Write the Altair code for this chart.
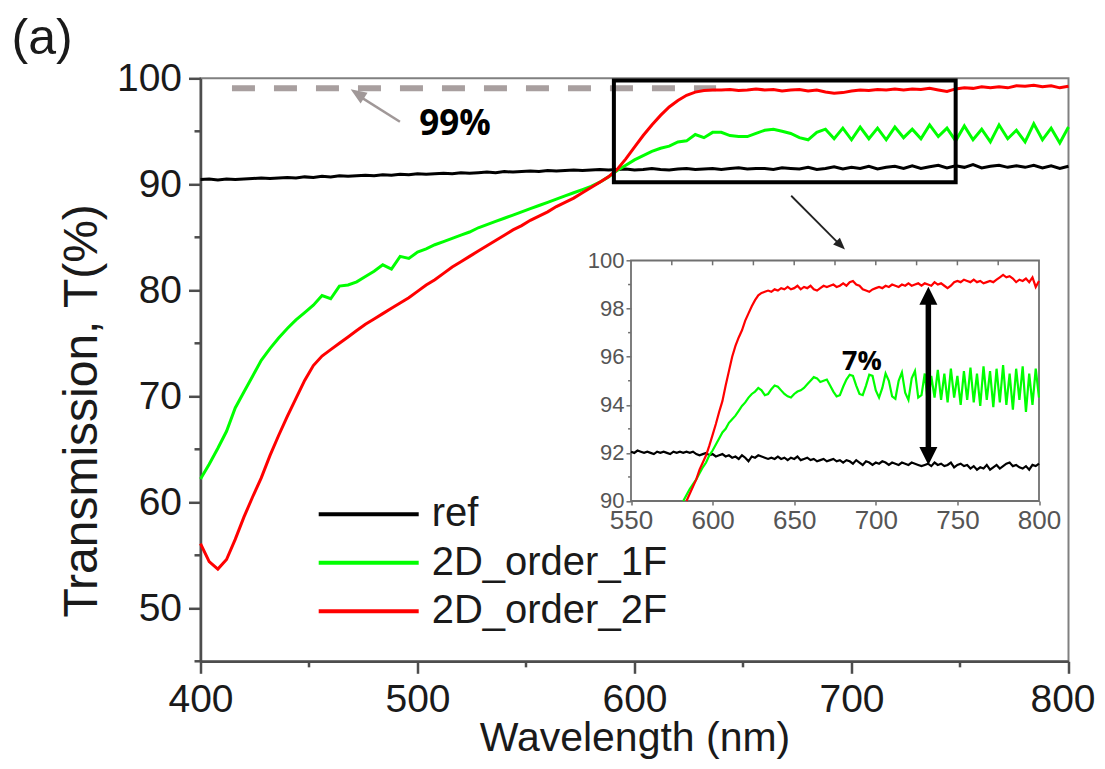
import altair as alt
import pandas as pd

FONT = "Liberation Sans"
ANN_FONT = "Open Sans"

# ---------------- data ----------------
series_names = ["ref", "2D_order_1F", "2D_order_2F"]
series_colors = ["#000000", "#00ff00", "#ff0000"]

wl_main = list(range(400, 801, 4))
ref_main = [
    90.45, 90.5, 90.4, 90.5, 90.45, 90.5, 90.55, 90.6, 90.55, 90.6,
    90.65, 90.6, 90.7, 90.65, 90.75, 90.7, 90.8, 90.75, 90.8, 90.85,
    90.8, 90.9, 90.85, 90.95, 90.9, 91.0, 90.95, 91.0, 91.05, 91.0,
    91.1, 91.05, 91.1, 91.15, 91.1, 91.2, 91.15, 91.2, 91.25, 91.2,
    91.3, 91.25, 91.3, 91.35, 91.3, 91.35, 91.4, 91.35, 91.4, 91.45,
    91.35, 91.4, 91.5, 91.4, 91.35, 91.45, 91.5, 91.4, 91.45, 91.5,
    91.4, 91.5, 91.55, 91.45, 91.5, 91.5, 91.4, 91.55, 91.5, 91.45,
    91.6, 91.4, 91.5, 91.65, 91.45, 91.6, 91.5, 91.7, 91.45, 91.6,
    91.7, 91.5, 91.75, 91.5, 91.65, 91.8, 91.55, 91.75, 91.6, 91.85,
    91.55, 91.7, 91.8, 91.6, 91.75, 91.6, 91.8, 91.55, 91.75, 91.5,
    91.7,
]
green_main = [
    62.2, 63.6, 65.1, 66.7, 68.9, 70.4, 71.9, 73.4, 74.5, 75.5,
    76.4, 77.2, 77.9, 78.6, 79.5, 79.2, 80.4, 80.5, 80.8, 81.3,
    81.8, 82.4, 82.0, 83.2, 83.0, 83.6, 83.9, 84.3, 84.6, 84.9,
    85.2, 85.5, 85.9, 86.2, 86.5, 86.8, 87.1, 87.4, 87.7, 88.0,
    88.3, 88.6, 88.9, 89.2, 89.5, 89.8, 90.2, 90.7, 91.3, 91.8,
    92.3, 92.7, 93.1, 93.4, 93.6, 94.0, 94.1, 94.7, 94.4, 94.9,
    94.9, 94.6, 94.5, 94.5, 94.8, 95.1, 95.2, 95.0, 94.8, 94.4,
    94.2, 94.9, 95.2, 94.3, 95.3, 94.2, 95.4, 94.3, 95.3, 94.2,
    95.4, 94.4, 95.2, 94.3, 95.6, 94.5, 95.3, 94.1, 95.5, 94.2,
    95.2, 94.0, 95.6, 94.3, 95.1, 94.0, 95.7, 94.2, 95.3, 93.9,
    95.4,
]
red_main = [
    56.1, 54.4, 53.7, 54.6, 56.5, 58.6, 60.5, 62.3, 64.4, 66.3,
    68.1, 69.8, 71.5, 72.9, 73.8, 74.4, 75.0, 75.6, 76.2, 76.8,
    77.3, 77.8, 78.3, 78.8, 79.3, 79.9, 80.5, 81.0, 81.6, 82.2,
    82.7, 83.2, 83.7, 84.2, 84.7, 85.2, 85.7, 86.1, 86.6, 87.0,
    87.4, 87.9, 88.3, 88.7, 89.2, 89.7, 90.2, 90.7, 91.4, 92.4,
    93.5, 94.6, 95.6, 96.5, 97.3, 97.9, 98.4, 98.7, 98.85, 98.9,
    98.9, 98.95, 98.85, 98.9, 99.0, 98.9, 98.95, 98.8, 98.9, 98.95,
    98.8, 98.9, 98.7, 98.6, 98.65, 98.8, 98.9, 98.85, 98.95, 98.9,
    99.0, 98.9, 99.0, 98.95, 99.05, 98.9, 98.75, 99.0, 99.1, 99.05,
    99.2, 99.1, 99.2, 99.1, 99.3, 99.25, 99.35, 99.2, 99.3, 99.1,
    99.25,
]

wl_inset_ref = list(range(550, 801, 2))
wl_inset_green = list(range(582, 801, 2))
wl_inset_red = list(range(584, 801, 2))
ref_inset = [
    92.05, 92.0, 92.1, 92.05, 92.0, 92.05, 92.0, 91.95, 92.05, 92.0,
    92.05, 92.0, 91.95, 92.05, 92.0, 92.05, 92.0, 92.05, 92.0, 92.05,
    91.95, 91.9, 91.95, 92.0, 91.9, 91.95, 91.85, 91.9, 91.95, 91.85,
    91.9, 91.8, 91.85, 91.75, 91.9, 91.8, 91.65, 91.85, 91.8, 91.9,
    91.85, 91.8, 91.75, 91.8, 91.75, 91.85, 91.75, 91.8, 91.7, 91.8,
    91.75, 91.85, 91.7, 91.75, 91.8, 91.7, 91.75, 91.65, 91.7, 91.75,
    91.65, 91.7, 91.75, 91.65, 91.7, 91.6, 91.7, 91.65, 91.55, 91.7,
    91.6, 91.5, 91.65, 91.6, 91.5, 91.6, 91.55, 91.65, 91.6, 91.5,
    91.6, 91.55, 91.5, 91.6, 91.55, 91.5, 91.6, 91.55, 91.5, 91.45,
    91.5, 91.55, 91.45, 91.6, 91.5, 91.55, 91.45, 91.5, 91.6, 91.4,
    91.5, 91.55, 91.45, 91.5, 91.35, 91.45, 91.3, 91.4, 91.35, 91.5,
    91.3, 91.4, 91.5, 91.35, 91.45, 91.55, 91.6, 91.45, 91.5, 91.4,
    91.35, 91.45, 91.3, 91.5, 91.45, 91.55,
]
green_inset = [
    90.0, 90.25, 90.5, 90.7, 90.9, 91.15, 91.4, 91.6, 91.9, 92.1,
    92.35, 92.6, 92.85, 93.0, 93.25, 93.4, 93.55, 93.75, 93.95, 94.1,
    94.3, 94.45, 94.55, 94.7, 94.6, 94.4, 94.45, 94.65, 94.8, 94.75,
    94.6, 94.45, 94.35, 94.3, 94.45, 94.55, 94.6, 94.7, 94.85, 95.0,
    95.15, 95.1, 94.95, 95.0, 95.05, 94.8, 94.55, 94.35, 94.4, 94.75,
    95.05, 95.25, 95.2, 94.8, 94.45, 94.4, 94.8, 95.25, 95.2, 94.6,
    94.3, 94.7, 95.3, 95.0, 94.35, 94.25, 95.0, 95.35, 94.5, 94.2,
    95.1, 95.4, 94.3, 94.4, 95.3, 94.0, 95.2, 94.3, 95.45, 94.2,
    95.3, 94.1, 95.5, 94.3, 95.2, 94.0, 95.4, 94.2, 95.55, 94.1,
    95.3, 93.95, 95.6, 94.2, 95.4, 93.9, 95.5, 94.1, 95.65, 94.0,
    95.3, 93.8, 95.5, 94.2, 95.6, 93.7, 95.3, 94.0, 95.5, 94.3,
]
red_inset = [
    90.0, 90.3, 90.6, 90.9, 91.3, 91.6, 91.9, 92.3, 92.75, 93.2,
    93.7, 94.15, 94.8, 95.4, 96.0, 96.45, 96.8, 97.1, 97.5, 97.8,
    98.1, 98.35, 98.55, 98.65, 98.7, 98.75, 98.7, 98.8, 98.75, 98.85,
    98.8, 98.9, 98.8, 98.85, 98.95, 98.8, 98.9, 98.85, 98.95, 98.8,
    98.75, 98.85, 98.95, 98.9, 98.95, 99.0, 98.9, 98.95, 99.05, 98.95,
    99.1, 99.15, 99.0, 98.95, 98.8, 98.75, 98.7, 98.8, 98.85, 98.9,
    98.85, 98.95, 98.9, 99.0, 98.95, 98.9, 99.0, 98.95, 99.05, 98.95,
    99.0, 99.05, 98.95, 99.05, 99.0, 98.95, 99.1, 99.0, 99.05, 98.95,
    98.85, 98.95, 99.1, 99.15, 99.1, 99.2, 99.15, 99.1, 99.2, 99.1,
    99.15, 99.05, 99.1, 99.15, 99.1, 99.2, 99.3, 99.4, 99.3, 99.35,
    99.25, 99.1, 99.2, 99.15, 99.25, 99.1, 99.3, 98.9, 99.15,
]

# axis tick values
main_x_ticks = [400, 500, 600, 700, 800]
main_y_ticks = [50, 60, 70, 80, 90, 100]
main_x_minor = [450, 550, 650, 750]
main_y_minor = [45, 55, 65, 75, 85, 95]
inset_x_ticks = [550, 600, 650, 700, 750, 800]
inset_y_ticks = [90, 92, 94, 96, 98, 100]
inset_y_minor = [91, 93, 95, 97, 99]
inset_x_top = [575, 600, 625, 650, 675, 700, 725, 750, 775]

# annotations (data coordinates)
box_x = [590.5, 748.0]
box_y = [90.2, 99.8]
dash99_x = [414.5, 637.6]
dash99_y = [99.05]
gray_arrow_tail = [491.9, 95.9]
gray_arrow_tip = [469.2, 98.96]
black_arrow_tail = [672.2, 88.92]
black_arrow_tip = [697.0, 83.84]
label99 = [517.3, 95.7, "99%"]
inset_arrow_x = [732.2]
inset_arrow_y = [91.5, 98.91]
label7 = [691.5, 95.78, "7%"]

# ---------------- layout ----------------
W, H = 868, 583
INSET_X_RANGE = [430.5, 838.5]
INSET_Y_RANGE = [422.7, 182.2]

xs_main = alt.Scale(domain=[400, 800], nice=False, zero=False)
ys_main = alt.Scale(domain=[45, 100], nice=False, zero=False)
xs_in = alt.Scale(domain=[550, 800], range=INSET_X_RANGE, nice=False, zero=False)
ys_in = alt.Scale(domain=[90, 100], range=INSET_Y_RANGE, nice=False, zero=False)
color_scale = alt.Scale(domain=series_names, range=series_colors)

HEAD = "M0,0L0.8,2L-0.8,2Z"
HEAD_WIDE = "M0,0L1,2L-1,2Z"

x_axis_main = alt.Axis(
    values=main_x_ticks, tickSize=12, labelFontSize=39, labelPadding=7,
    labelOffset={"condition": {"test": "datum.value === 800", "value": -6}, "value": 0},
    labelFlush=False, labelOverlap=False, format="d",
    title="Wavelength (nm)", titleFontSize=41, titleBaseline="alphabetic",
    titleX=W / 2, titleY=89.5,
)
y_axis_main = alt.Axis(
    values=main_y_ticks, tickSize=12, labelFontSize=39, labelPadding=7,
    labelOverlap=False, format="d",
    title="Transmission, T(%)", titleFontSize=48, titleX=-94, titleY=332,
)
x_axis_in = alt.Axis(
    orient="bottom", offset=INSET_Y_RANGE[0] - H, values=inset_x_ticks, tickSize=4,
    labelFontSize=26, labelPadding=3, labelColor="#555555", tickColor="#707070",
    tickWidth=1.5, domain=False, labelFlush=False, labelOverlap=False, format="d", title=None,
)
y_axis_in = alt.Axis(
    orient="left", offset=-INSET_X_RANGE[0], values=inset_y_ticks, tickSize=5,
    labelFontSize=22, labelPadding=2, labelColor="#555555", tickColor="#707070",
    tickWidth=1.5, domain=False, labelOverlap=False, format="d", title=None,
)


def MX(field=None, datum=None):
    if datum is not None:
        return alt.X(datum=datum, scale=xs_main, axis=x_axis_main)
    return alt.X(field, scale=xs_main, axis=x_axis_main)


def MY(field=None, datum=None):
    if datum is not None:
        return alt.Y(datum=datum, scale=ys_main, axis=y_axis_main)
    return alt.Y(field, scale=ys_main, axis=y_axis_main)


def IX(field=None, datum=None):
    if datum is not None:
        return alt.X(datum=datum, scale=xs_in, axis=x_axis_in)
    return alt.X(field, scale=xs_in, axis=x_axis_in)


def IY(field=None, datum=None):
    if datum is not None:
        return alt.Y(datum=datum, scale=ys_in, axis=y_axis_in)
    return alt.Y(field, scale=ys_in, axis=y_axis_in)


# ---------------- dataframes ----------------
main_df = pd.concat([
    pd.DataFrame({"wl": wl_main, "T": ref_main, "series": series_names[0]}),
    pd.DataFrame({"wl": wl_main, "T": green_main, "series": series_names[1]}),
    pd.DataFrame({"wl": wl_main, "T": red_main, "series": series_names[2]}),
])
inset_df = pd.concat([
    pd.DataFrame({"wl": wl_inset_ref, "T": ref_inset, "series": series_names[0]}),
    pd.DataFrame({"wl": wl_inset_green, "T": green_inset, "series": series_names[1]}),
    pd.DataFrame({"wl": wl_inset_red, "T": red_inset, "series": series_names[2]}),
])
one = pd.DataFrame({"k": [0]})

# ---------------- main panel ----------------
dash = alt.Chart(pd.DataFrame({"x": [dash99_x[0]], "x2": [dash99_x[1]], "y": dash99_y})).mark_rule(
    color="#a89f9f", strokeWidth=6, strokeDash=[23, 19]
).encode(x=MX("x:Q"), x2="x2:Q", y=MY("y:Q"))

minor_x = alt.Chart(pd.DataFrame({"v": main_x_minor})).mark_rule(color="#4d4d4d", strokeWidth=2.5).encode(
    x=MX("v:Q"), y=MY(datum=45), y2=alt.datum(44.43),
)
minor_y = alt.Chart(pd.DataFrame({"v": main_y_minor})).mark_rule(color="#4d4d4d", strokeWidth=2.5).encode(
    y=MY("v:Q"), x=MX(datum=400), x2=alt.datum(397.24),
)

legend = alt.Legend(
    orient="none", legendX=116.2, legendY=416, title=None,
    symbolType="stroke", symbolSize=10000, symbolStrokeWidth=4,
    labelFontSize=40, labelFont=FONT, labelColor="#1a1a1a", labelOffset=11,
    labelLimit=0, rowPadding=8.5, clipHeight=40, padding=0,
)

main_lines = []
for s in series_names:
    main_lines.append(
        alt.Chart(main_df).transform_filter(alt.datum.series == s).mark_line(strokeWidth=3).encode(
            x=MX("wl:Q"), y=MY("T:Q"),
            color=alt.Color("series:N", scale=color_scale, legend=legend),
        )
    )

box = alt.Chart(pd.DataFrame({"x": [box_x[0]], "x2": [box_x[1]], "y": [box_y[0]], "y2": [box_y[1]]})).mark_rect(
    fillOpacity=0, stroke="black", strokeWidth=4
).encode(x=MX("x:Q"), x2="x2:Q", y=MY("y:Q"), y2="y2:Q")

gray_shaft = alt.Chart(pd.DataFrame({
    "x": [gray_arrow_tail[0]], "y": [gray_arrow_tail[1]],
    "x2": [gray_arrow_tip[0] + 2.5], "y2": [gray_arrow_tip[1] - 0.45],
})).mark_rule(color="#a09898", strokeWidth=2.5).encode(x=MX("x:Q"), x2="x2:Q", y=MY("y:Q"), y2="y2:Q")
gray_head = alt.Chart(pd.DataFrame({"x": [gray_arrow_tip[0]], "y": [gray_arrow_tip[1]]})).mark_point(
    shape=HEAD, filled=True, size=256, angle=303, color="#a09898", opacity=1
).encode(x=MX("x:Q"), y=MY("y:Q"))

black_shaft = alt.Chart(pd.DataFrame({
    "x": [black_arrow_tail[0]], "y": [black_arrow_tail[1]],
    "x2": [black_arrow_tip[0] - 2.5], "y2": [black_arrow_tip[1] + 0.5],
})).mark_rule(color="#222222", strokeWidth=1.8).encode(x=MX("x:Q"), x2="x2:Q", y=MY("y:Q"), y2="y2:Q")
black_head = alt.Chart(pd.DataFrame({"x": [black_arrow_tip[0]], "y": [black_arrow_tip[1]]})).mark_point(
    shape=HEAD, filled=True, size=144, angle=135, color="#222222", opacity=1
).encode(x=MX("x:Q"), y=MY("y:Q"))

txt99 = alt.Chart(pd.DataFrame({"x": [label99[0]], "y": [label99[1]], "t": [label99[2]]})).mark_text(
    font=ANN_FONT, fontWeight="bold", fontSize=35, color="black", align="center", baseline="middle"
).encode(x=MX("x:Q"), y=MY("y:Q"), text="t:N")

panel_label = alt.Chart(one).mark_text(
    text="(a)", font=FONT, fontSize=50, color="#1a1a1a", align="left", baseline="alphabetic"
).encode(x=alt.value(-189), y=alt.value(-24))

main_layer = alt.layer(
    dash, minor_x, minor_y, *main_lines, box, gray_shaft, gray_head, black_shaft, black_head, txt99, panel_label
)

# ---------------- inset panel ----------------
inset_frame = alt.Chart(one).mark_rect(fillOpacity=0, stroke="#707070", strokeWidth=1.8).encode(
    x=IX(datum=550), x2=alt.datum(800), y=IY(datum=90), y2=alt.datum(100),
)

inset_lines = []
for s in series_names:
    inset_lines.append(
        alt.Chart(inset_df).transform_filter(alt.datum.series == s).mark_line(strokeWidth=2.2).encode(
            x=IX("wl:Q"), y=IY("T:Q"),
            color=alt.Color("series:N", scale=color_scale, legend=None),
        )
    )

in_minor_y = alt.Chart(pd.DataFrame({"v": inset_y_minor})).mark_rule(color="#707070", strokeWidth=1.5).encode(
    y=IY("v:Q"), x=IX(datum=550), x2=alt.datum(548.2),
)
in_top = alt.Chart(pd.DataFrame({"v": inset_x_top})).mark_rule(color="#707070", strokeWidth=1.5).encode(
    x=IX("v:Q"), y=IY(datum=100), y2=alt.datum(99.8),
)

d_shaft = alt.Chart(pd.DataFrame({"x": inset_arrow_x, "y": [inset_arrow_y[0] + 0.5], "y2": [inset_arrow_y[1] - 0.5]})).mark_rule(
    color="black", strokeWidth=5.5
).encode(x=IX("x:Q"), y=IY("y:Q"), y2="y2:Q")
d_heads = alt.Chart(pd.DataFrame({"x": inset_arrow_x * 2, "y": inset_arrow_y, "a": [180, 0]})).mark_point(
    shape=HEAD_WIDE, filled=True, size=324, color="black", opacity=1
).encode(x=IX("x:Q"), y=IY("y:Q"), angle=alt.Angle("a:Q", scale=None))

txt7 = alt.Chart(pd.DataFrame({"x": [label7[0]], "y": [label7[1]], "t": [label7[2]]})).mark_text(
    font=ANN_FONT, fontWeight="bold", fontSize=27, color="black", align="center", baseline="middle"
).encode(x=IX("x:Q"), y=IY("y:Q"), text="t:N")

inset_layer = alt.layer(inset_frame, in_minor_y, in_top, *inset_lines, d_shaft, d_heads, txt7)

chart = alt.layer(main_layer, inset_layer).resolve_scale(
    x="independent", y="independent"
).properties(
    width=W, height=H,
    autosize=alt.AutoSizeParams(type="none"),
    padding={"left": 192.5, "top": 70.3, "right": 28.5, "bottom": 98.5},
).configure_view(
    stroke="#808080", strokeWidth=2
).configure_axis(
    grid=False, domainColor="#4d4d4d", tickColor="#4d4d4d", domainWidth=2.5, tickWidth=2.5,
    labelFont=FONT, titleFont=FONT, titleFontWeight="normal",
    labelColor="#1a1a1a", titleColor="#1a1a1a",
)

chart.save("out.html", embed_options={"renderer": "svg", "actions": False})
